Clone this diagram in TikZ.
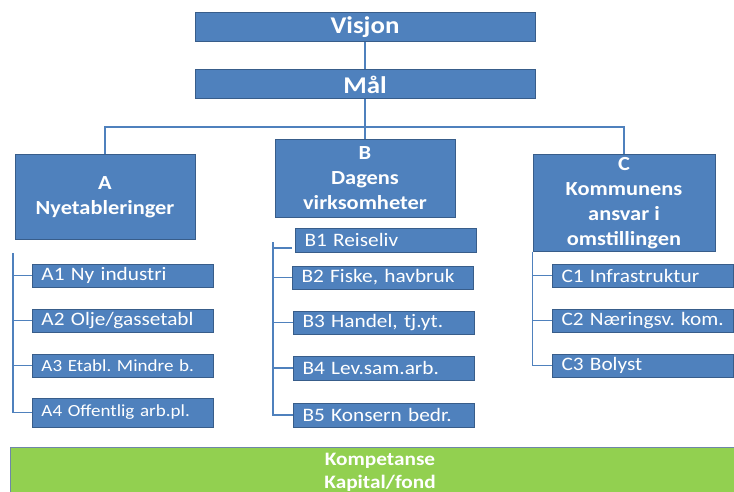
\documentclass[tikz,border=0pt]{standalone}
\usepackage{fontspec}
\setmainfont{Carlito}[FakeStretch=1.12]
\usepackage{xcolor}
\frenchspacing
\definecolor{bluex}{HTML}{4F81BD}
\definecolor{edgex}{HTML}{385D8A}
\definecolor{greenx}{HTML}{92D050}
\definecolor{grayx}{HTML}{6F86A8}
\tikzset{
  topbox/.style={draw=edgex,line width=1pt,fill=bluex,text=white,minimum width=340pt,minimum height=29pt,inner sep=0pt,font=\bfseries\fontsize{24}{28}\selectfont},
  hdbox/.style={draw=edgex,line width=1pt,fill=bluex,text=white,align=center,minimum width=180pt,inner sep=0pt,font=\bfseries\fontsize{20}{25}\selectfont},
  leaf/.style={draw=edgex,line width=1pt,fill=bluex,text=white,anchor=west,align=left,text width=163pt,inner xsep=9pt,inner ysep=0pt,minimum height=23pt,font=\fontsize{19}{22}\selectfont},
  small/.style={font=\fontsize{17}{20}\selectfont},
  basebar/.style={draw=grayx,line width=1pt,fill=greenx,text=white,align=center,minimum width=740pt,minimum height=50pt,font=\bfseries\fontsize{19}{23}\selectfont},
  link/.style={line width=1.3pt,bluex}
}

\begin{document}
\begin{tikzpicture}[x=1pt,y=-1pt]
\useasboundingbox (0,0) rectangle (734,492);
% top of the tree
\node[topbox] (visjon) at (365,27.5) {Visjon};
\node[topbox] (maal) at (365,84.5) {Mål};
\coordinate (jn) at (365,127);
% the three areas
\node[hdbox,minimum height=84pt] (A) at (105,197) {A\\Nyetableringer};
\node[hdbox,minimum height=77pt] (B) at (365,178.5) {B\\Dagens\\virksomheter};
\node[hdbox,minimum width=182pt,minimum height=96pt] (C) at (624,203) {C\\Kommunens\\ansvar i\\omstillingen};
\draw[link] (visjon) -- (maal);
\draw[link] (maal) -- (B);
\draw[link] (A.north) |- (jn) -| (C.north);
% A
\node[leaf] (a1) at (32,275.5) {A1 Ny industri};
\node[leaf] (a2) at (32,320.5) {A2 Olje/gassetabl};
\node[leaf,small] (a3) at (32,365.5) {A3 Etabl. Mindre b.};
\node[leaf,small,minimum height=29pt] (a4) at (32,412.5) {A4 Offentlig arb.pl.};
\coordinate (atop) at (13,253);
\draw[link] (atop) |- (a4.west);
\foreach \n in {a1,a2,a3}
  \draw[link] (\n.west) -- (\n.west -| atop);
% B
\node[leaf,minimum height=24pt] (b1) at (295,240) {B1 Reiseliv};
\node[leaf] (b2) at (292,277.5) {B2 Fiske, havbruk};
\node[leaf] (b3) at (293,322.5) {B3 Handel, tj.yt.};
\node[leaf,minimum height=24pt] (b4) at (293,368) {B4 Lev.sam.arb.};
\node[leaf,minimum height=24pt] (b5) at (293,415) {B5 Konsern bedr.};
\coordinate (btop) at (273,242);
\coordinate (b1t) at (292,248);
\draw[link] (btop) |- (b5.west);
\draw[link] (b1t) -- (b1t -| btop);
\foreach \n in {b2,b3,b4}
  \draw[link] (\n.west) -- (\n.west -| btop);
% C
\node[leaf] (c1) at (552,275.5) {C1 Infrastruktur};
\node[leaf] (c2) at (552,320.5) {\mbox{C2 Næringsv. kom.}};
\node[leaf] (c3) at (552,365.5) {C3 Bolyst};
\draw[link] (C.south west) |- (c3.west);
\foreach \n in {c1,c2}
  \draw[link] (\n.west) -- (\n.west -| C.south west);
% base
\node[basebar] (base) at (380,472) {Kompetanse\\Kapital/fond};
\end{tikzpicture}
\end{document}
